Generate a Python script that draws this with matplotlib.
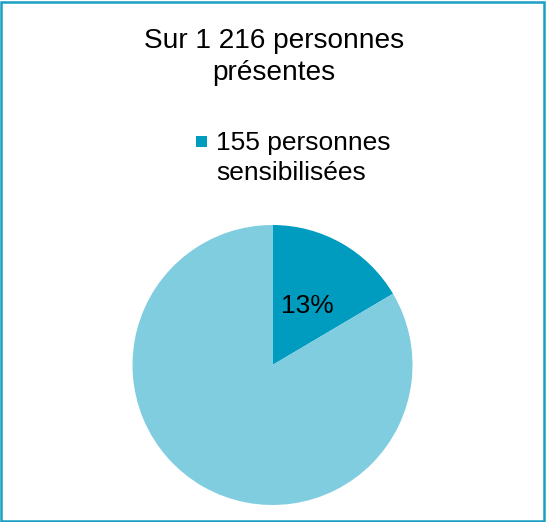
import matplotlib
matplotlib.use("Agg")
import matplotlib.pyplot as plt
from matplotlib.patches import Rectangle

plt.rcParams['font.family'] = ['Liberation Sans', 'DejaVu Sans']

title = "Sur 1 216 personnes\nprésentes"
categories = ["155 personnes\nsensibilisées", "autres"]
slice_values = [16.5, 83.5]
slice_labels = ["13%", ""]
colors = ["#009CC0", "#80CDE0"]

fig = plt.figure(figsize=(5.46, 5.22), dpi=100)
W, H = 546, 522

ax = fig.add_axes([(272.5 - 140) / W, 1 - (365 + 140) / H, 280 / W, 280 / H])
wedges, _ = ax.pie(slice_values, colors=colors, startangle=90, counterclock=False,
                   wedgeprops=dict(linewidth=0))
ax.set_aspect('equal')
ax.set_xlim(-1, 1)
ax.set_ylim(-1, 1)
ax.axis('off')

# percentage label inside the dark slice
ax.text(0.25, 0.42, slice_labels[0], fontsize=19, ha='center', va='center', color='black')

fig.text(274 / W, 1 - 57.5 / H, title, fontsize=20.2, ha='center', va='center',
         linespacing=1.3, color='black')

# legend
fig.patches.append(Rectangle((196 / W, 1 - 147 / H), 11 / W, 11 / H, transform=fig.transFigure,
                             facecolor=colors[0], edgecolor='none'))
fig.text(216 / W, 1 - 158 / H, categories[0], fontsize=19, ha='left', va='center',
         linespacing=1.3, color='black')

# border
fig.patches.append(Rectangle((1 / W, 1 / H), (W - 3) / W, (H - 3) / H, transform=fig.transFigure,
                             facecolor='none', edgecolor='#1A9FC2', linewidth=1.8))

fig.savefig("out.png", dpi=100)
